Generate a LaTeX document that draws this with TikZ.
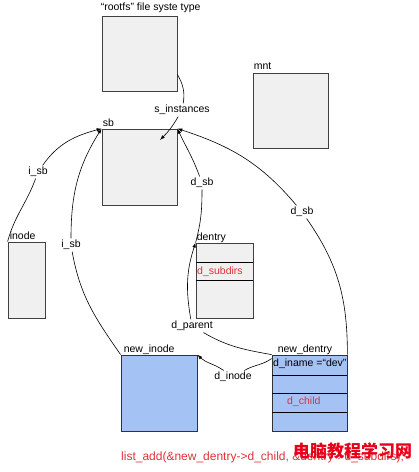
\documentclass[tikz,border=0pt]{standalone}
\usepackage{fontspec}
\setmainfont{Liberation Sans}
\newfontfamily\cjk{Noto Sans CJK SC}
\usetikzlibrary{arrows.meta}
\definecolor{boxgray}{RGB}{240,240,240}
\definecolor{boxblue}{RGB}{164,194,244}
\definecolor{txtred}{RGB}{224,48,56}
\definecolor{wmred}{RGB}{232,0,24}

\begin{document}
\begin{tikzpicture}[x=1pt,y=1pt,
  font=\fontsize{10.5}{12}\selectfont,
  graybox/.style={draw=black!75,fill=boxgray,line width=0.8pt,inner sep=0pt},
  bluebox/.style={draw=black!80,fill=boxblue,line width=0.8pt,inner sep=0pt},
  tag/.style={anchor=base west,inner sep=0pt},
  lbl/.style={inner sep=1.5pt},
  link/.style={line width=0.6pt},
  ptr/.style={link,-{Latex[length=5pt,width=3.5pt]}},
  redtxt/.style={tag,text=txtred}]

\useasboundingbox (0,0) rectangle (419,472);

% boxes
\node[graybox,minimum width=75pt,minimum height=75pt] (rootfs) at (139.5,418.5) {};
\node[graybox,minimum width=75pt,minimum height=75pt] (mnt) at (290.5,361.5) {};
\node[graybox,minimum width=75pt,minimum height=76pt] (sb) at (139.5,305) {};
\node[graybox,minimum width=37pt,minimum height=76pt] (inode) at (26.5,192) {};
\node[graybox,minimum width=57pt,minimum height=75pt] (dentry) at (224.5,191.5) {};
\node[bluebox,minimum width=76pt,minimum height=76pt] (newinode) at (159,79) {};
\node[bluebox,minimum width=75pt,minimum height=76pt] (newdentry) at (309.5,79) {};

% compartments
\draw[line width=0.8pt] (196,210) -- (253,210);
\draw[line width=0.8pt] (196,192) -- (253,192);
\draw[line width=0.8pt] (272,97) -- (347,97);
\draw[line width=0.8pt] (272,79) -- (347,79);
\draw[line width=0.8pt] (272,60) -- (347,60);

% titles
\node[tag] (rootfslbl) at ([shift={(-1,5)}]rootfs.north west) {“rootfs” file syste type};
\node[tag] (mntlbl) at ([shift={(1,3.5)}]mnt.north west) {mnt};
\node[tag] (sblbl) at ([shift={(1,2)}]sb.north west) {sb};
\node[tag] (inodelbl) at ([shift={(2,2)}]inode.north west) {inode};
\node[tag] (dentrylbl) at ([shift={(1,2)}]dentry.north west) {dentry};
\node[tag] (newinodelbl) at ([shift={(3,2)}]newinode.north west) {new\_inode};
\node[tag] (newdentrylbl) at ([shift={(6,2)}]newdentry.north west) {new\_dentry};

% fields
\node[redtxt] (subdirs) at (197,197) {d\_subdirs};
\node[tag] (iname) at (273,105) {d\_iname =“dev”};
\node[redtxt] (child) at (287,67) {d\_child};

% pointers
\node[lbl] (sinst) at (182,362) {s\_instances};
\coordinate (sbin) at (160,332);
\draw[link] ([yshift=-21pt]rootfs.east) to[out=-60,in=80] (sinst);
\draw[ptr] (sinst) to[out=-120,in=45] (sbin);

\node[lbl] (isbl) at (38,300) {i\_sb};
\draw[link] (inode.north west) to[out=75,in=-110] (isbl);
\draw[ptr] (isbl) to[out=55,in=-165] (sb.north west);

\node[lbl] (isbm) at (71,227) {i\_sb};
\draw[link] (newinode.north west) to[out=125,in=-80] (isbm);
\draw[ptr] (isbm) to[out=90,in=-122] (sb.north west);

\node[lbl] (dsbu) at (202,289) {d\_sb};
\draw[link] (dentry.north west) to[out=75,in=-90] (dsbu);
\draw[ptr] (dsbu) to[out=110,in=-65] (sb.north east);

\node[lbl] (dsbr) at (302,260) {d\_sb};
\draw[link] (newdentry.north east) to[out=90,in=-55] (dsbr);
\draw[ptr] (dsbr) to[out=130,in=-18] (sb.north east);

\node[lbl] (dpar) at (192,146) {d\_parent};
\draw[link] (newdentry.north west) to[out=170,in=-30] (dpar);
\draw[ptr] (dpar) to[out=100,in=-108] (dentry.north west);

\node[lbl] (dino) at (233,95) {d\_inode};
\draw[link] ([yshift=-4pt]newdentry.north west) to[out=-145,in=30] (dino);
\draw[ptr] (dino) to[out=145,in=-45] (newinode.north east);

% call and watermark
\node[redtxt,font=\fontsize{12}{14}\selectfont] (listadd) at (121,12) {list\_add(\&new\_dentry->d\_child, \&dentry->d\_subdirs);};
\node[anchor=west,inner sep=0pt,text=wmred,font=\cjk\bfseries\fontsize{17}{19}\selectfont] (wmark) at (293,21.5) {电脑教程学习网};

\end{tikzpicture}
\end{document}
